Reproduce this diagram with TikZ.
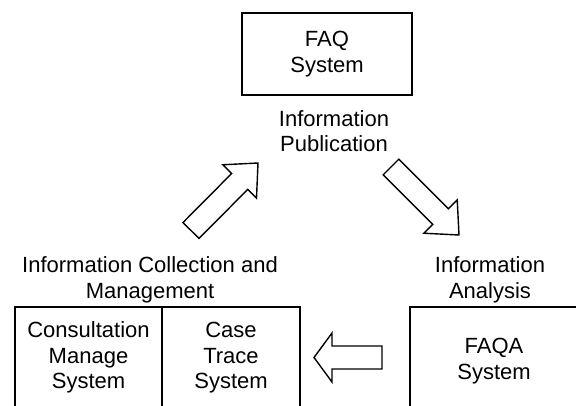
\documentclass[tikz,border=0pt]{standalone}
\usepackage{fontspec}
\setmainfont{Liberation Sans}
\usetikzlibrary{calc}
\tikzset{
  box/.style={draw, line width=1.6pt, inner sep=0pt, align=center},
  lbl/.style={align=center, inner sep=0pt},
  blockarr/.style={draw, fill=white, line width=1.4pt, line join=miter},
}
% #1 tail, #2 tip, #3 shaft half width, #4 head half width, #5 head length
\newcommand\myblockarrow[5]{%
  \coordinate (ba-m) at ($(#2)!#5!(#1)$);
  \draw[blockarr] ($(#1)!#3!90:(#2)$) -- ($(ba-m)!#3!90:(#2)$) -- ($(ba-m)!#4!90:(#2)$)
    -- (#2) -- ($(ba-m)!#4!-90:(#2)$) -- ($(ba-m)!#3!-90:(#2)$) -- ($(#1)!#3!-90:(#2)$) -- cycle;
}
\begin{document}
\begin{tikzpicture}[x=1pt, y=-1pt, font=\fontsize{22}{25.5}\selectfont]
\useasboundingbox (0,0) rectangle (576,405);
\clip (0,0) rectangle (576,405);
\node[box, minimum width=170pt, minimum height=82pt] (faq) at (327,54) {FAQ\\System};
\node[lbl] (pub) at (334,131) {Information\\Publication};
\node[lbl] (coll) at (150,280) {Information Collection and\\Management};
\node[lbl] (ana) at (490,280) {Information\\Analysis};
\node[box, minimum width=147pt, minimum height=101.4pt] (cms) at (88.5,357.7) {Consultation\\Manage\\System};
\node[box, minimum width=138pt, minimum height=101.4pt] (cts) at (231,357.7) {Case\\Trace\\System};
\node[box, minimum width=168pt, minimum height=108pt] (faqa) at (494,361) {FAQA\\System};
\coordinate (upT) at (191,230.5);
\coordinate (upH) at (258,163);
\coordinate (dnT) at (391,167);
\coordinate (dnH) at (459,235);
\coordinate (lfT) at (382,357.5);
\coordinate (lfH) at (314,357.5);
\myblockarrow{upT}{upH}{11.3pt}{23.7pt}{26pt}
\myblockarrow{dnT}{dnH}{11pt}{23.5pt}{26pt}
\myblockarrow{lfT}{lfH}{11.5pt}{24.5pt}{18pt}
\end{tikzpicture}
\end{document}
